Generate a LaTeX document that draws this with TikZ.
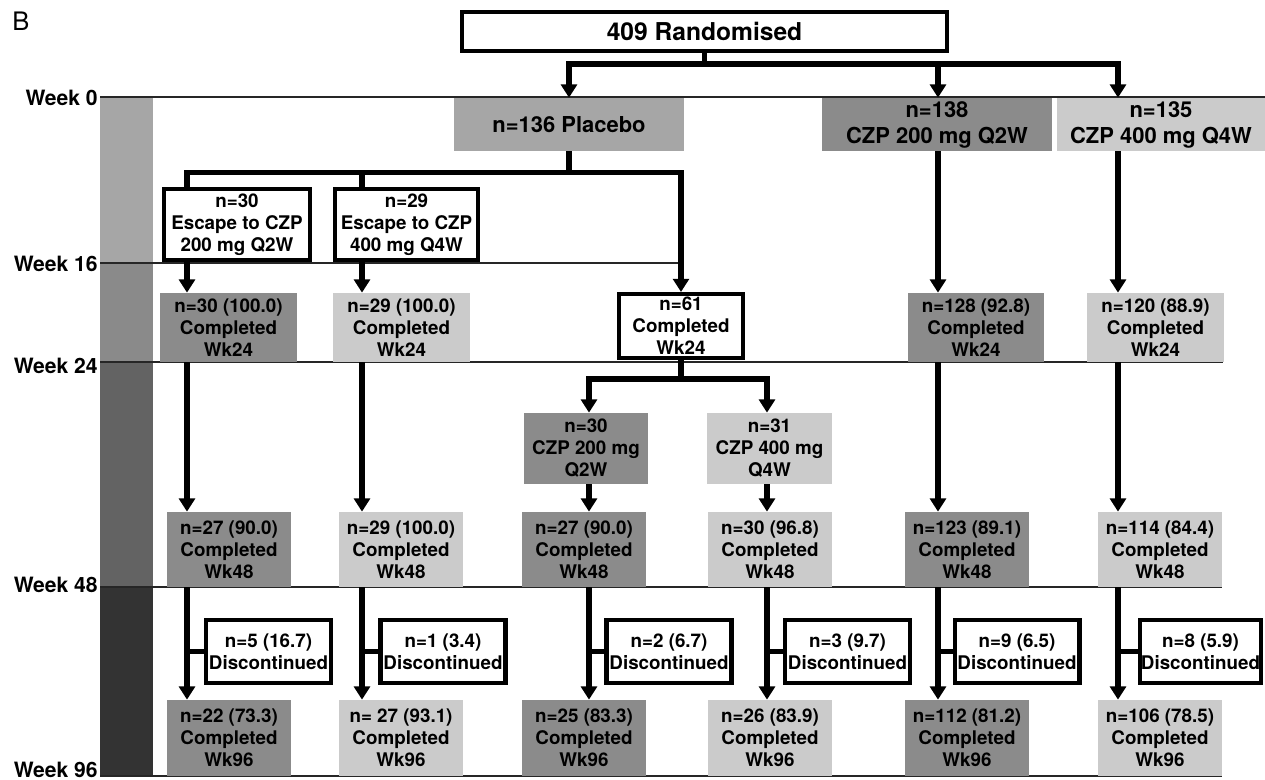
\documentclass[tikz,border=0pt]{standalone}
\usepackage{fontspec}
\setmainfont{TeX Gyre Heros}
\usepackage{tikz}
\usetikzlibrary{arrows.meta, positioning}
\definecolor{armdark}{HTML}{8B8B8B}
\definecolor{armlight}{HTML}{CBCBCB}
\definecolor{armplac}{HTML}{A6A6A6}
\tikzset{
  box/.style = {align=center, inner sep=0pt, text centered,
    font=\bfseries\fontsize{10.7}{12.5}\selectfont},
  big/.style = {font=\bfseries\fontsize{12.5}{14.8}\selectfont},
  dk/.style = {box, fill=armdark},
  lt/.style = {box, fill=armlight},
  wt/.style = {box, draw=black, fill=white, line width=2.3pt},
  wk/.style = {anchor=east, inner sep=0pt,
    font=\bfseries\fontsize{12}{14}\selectfont},
  flow/.style = {line width=3.2pt},
  wkline/.style = {line width=1pt, draw=black!85},
  r24/.style = {minimum width=2.74cm, minimum height=1.38cm},
  r48/.style = {minimum width=2.48cm, minimum height=1.5cm},
  r96/.style = {minimum width=2.48cm, minimum height=1.52cm},
  disc/.style = {wt, minimum width=2.5cm, minimum height=1.26cm}
}

\begin{document}
\begin{tikzpicture}[x=0.02cm, y=-0.02cm,
  >={Triangle[width=9pt,length=7.5pt]}]
\useasboundingbox (0,0) rectangle (1265,780);

\fill[armplac] (100,97) rectangle (153,263);
\fill[black!46] (100,263) rectangle (153,362);
\fill[black!61] (100,362) rectangle (153,587);
\fill[black!80] (100,587) rectangle (153,776);

\draw[wkline] (100,97) -- (1265,97);
\draw[wkline] (100,263) -- (682,263);
\draw[wkline] (100,362) -- (1223,362);
\draw[wkline] (100,587) -- (1222,587);
\draw[wkline] (100,776) -- (1222,776);

\node[inner sep=0pt, anchor=north west, font=\fontsize{14.5}{16}\selectfont]
  (panel) at (12,12) {B};
\node[wk] (wk0) at (98,98) {Week 0};
\node[wk] (wk16) at (98,264) {Week 16};
\node[wk] (wk24) at (98,366) {Week 24};
\node[wk] (wk48) at (98,585) {Week 48};
\node[wk] (wk96) at (98,770) {Week 96};

\coordinate (c1) at (187,0);
\coordinate (c2) at (362,0);
\coordinate (c3) at (589,0);
\coordinate (c4) at (767,0);
\coordinate (c5) at (938,0);
\coordinate (c6) at (1118,0);

\node[wt, minimum width=9.7cm, minimum height=0.78cm,
  font=\bfseries\fontsize{14}{16}\selectfont] (rand) at (704.5,31.5) {409 Randomised};

\node[box, big, fill=armplac, minimum width=4.6cm, minimum height=1.06cm]
  (plac) at (569,124.5) {n=136 Placebo};
\node[dk, big, minimum width=4.6cm, minimum height=1.06cm]
  (q2wa) at (937,124.5) {n=138\\CZP 200 mg Q2W};
\node[lt, big, minimum width=4.16cm, minimum height=1.06cm]
  (q4wa) at (1161,124.5) {n=135\\CZP 400 mg Q4W};

\node[wt, minimum width=2.92cm, minimum height=1.42cm]
  (esca) at (237,224.5) {n=30\\Escape to CZP\\200 mg Q2W};
\node[wt, minimum width=2.86cm, minimum height=1.42cm]
  (escb) at (406.5,224.5) {n=29\\Escape to CZP\\400 mg Q4W};

\node[dk, r24] (wa24) at (228.5,327.5) {n=30 (100.0)\\Completed\\Wk24};
\node[lt, r24] (wb24) at (401.5,327.5) {n=29 (100.0)\\Completed\\Wk24};
\node[wt, minimum width=2.48cm, minimum height=1.28cm]
  (n61) at (681,326) {n=61\\Completed\\Wk24};
\node[dk, r24] (we24) at (976,327.5) {n=128 (92.8)\\Completed\\Wk24};
\node[lt, r24] (wf24) at (1155.5,327.5) {n=120 (88.9)\\Completed\\Wk24};

\node[dk, minimum width=2.48cm, minimum height=1.42cm]
  (q2wb) at (586,448.5) {n=30\\CZP 200 mg\\Q2W};
\node[lt, minimum width=2.5cm, minimum height=1.42cm]
  (q4wb) at (769.5,448.5) {n=31\\CZP 400 mg\\Q4W};

\node[dk, r48] (wa48) at (229,549.5) {n=27 (90.0)\\Completed\\Wk48};
\node[lt, r48] (wb48) at (401,549.5) {n=29 (100.0)\\Completed\\Wk48};
\node[dk, r48] (wc48) at (584,549.5) {n=27 (90.0)\\Completed\\Wk48};
\node[lt, r48] (wd48) at (770,549.5) {n=30 (96.8)\\Completed\\Wk48};
\node[dk, r48] (we48) at (967,549.5) {n=123 (89.1)\\Completed\\Wk48};
\node[lt, r48] (wf48) at (1160,549.5) {n=114 (84.4)\\Completed\\Wk48};

\node[disc] (dca) at (268.5,651.5) {n=5 (16.7)\\Discontinued};
\node[disc] (dcb) at (443,651.5) {n=1 (3.4)\\Discontinued};
\node[disc] (dcc) at (669,651.5) {n=2 (6.7)\\Discontinued};
\node[disc] (dcd) at (847.5,651.5) {n=3 (9.7)\\Discontinued};
\node[disc] (dce) at (1017,651.5) {n=9 (6.5)\\Discontinued};
\node[disc, minimum width=2.42cm] (dcf) at (1200.5,651.5) {n=8 (5.9)\\Discontinued};

\node[dk, r96] (wa96) at (229,738) {n=22 (73.3)\\Completed\\Wk96};
\node[lt, r96] (wb96) at (401,738) {n= 27 (93.1)\\Completed\\Wk96};
\node[dk, r96] (wc96) at (584,738) {n=25 (83.3)\\Completed\\Wk96};
\node[lt, r96] (wd96) at (770,738) {n=26 (83.9)\\Completed\\Wk96};
\node[dk, r96] (we96) at (967,738) {n=112 (81.2)\\Completed\\Wk96};
\node[lt, r96] (wf96) at (1160,738) {n=106 (78.5)\\Completed\\Wk96};

\draw[flow,->] (rand.south) -- ++(0,11) -| (plac.north);
\draw[flow,->] (rand.south) -- ++(0,11) -| (q2wa.north -| c5);
\draw[flow,->] (rand.south) -- ++(0,11) -| (q4wa.north -| c6);

\draw[flow] (plac.south) -- ++(0,21) -| (esca.north -| c1);
\draw[flow] (plac.south) -- ++(0,21) -| (escb.north -| c2);
\draw[flow,->] (plac.south) -- ++(0,21) -| (n61.north);

\draw[flow,->] (esca.south -| c1) -- (wa24.north -| c1);
\draw[flow,->] (escb.south -| c2) -- (wb24.north -| c2);
\draw[flow,->] (q2wa.south -| c5) -- (we24.north -| c5);
\draw[flow,->] (q4wa.south -| c6) -- (wf24.north -| c6);

\draw[flow,->] (n61.south) -- ++(0,19) -| (q2wb.north -| c3);
\draw[flow,->] (n61.south) -- ++(0,19) -| (q4wb.north -| c4);

\draw[flow,->] (wa24.south -| c1) -- (wa48.north -| c1);
\draw[flow,->] (wb24.south -| c2) -- (wb48.north -| c2);
\draw[flow,->] (q2wb.south -| c3) -- (wc48.north -| c3);
\draw[flow,->] (q4wb.south -| c4) -- (wd48.north -| c4);
\draw[flow,->] (we24.south -| c5) -- (we48.north -| c5);
\draw[flow,->] (wf24.south -| c6) -- (wf48.north -| c6);

\draw[flow,->] (wa48.south -| c1) -- (wa96.north -| c1);
\draw[flow,->] (wb48.south -| c2) -- (wb96.north -| c2);
\draw[flow,->] (wc48.south -| c3) -- (wc96.north -| c3);
\draw[flow,->] (wd48.south -| c4) -- (wd96.north -| c4);
\draw[flow,->] (we48.south -| c5) -- (we96.north -| c5);
\draw[flow,->] (wf48.south -| c6) -- (wf96.north -| c6);

\draw[flow] (dca.west) -- (dca.west -| c1);
\draw[flow] (dcb.west) -- (dcb.west -| c2);
\draw[flow] (dcc.west) -- (dcc.west -| c3);
\draw[flow] (dcd.west) -- (dcd.west -| c4);
\draw[flow] (dce.west) -- (dce.west -| c5);
\draw[flow] (dcf.west) -- (dcf.west -| c6);
\end{tikzpicture}
\end{document}
